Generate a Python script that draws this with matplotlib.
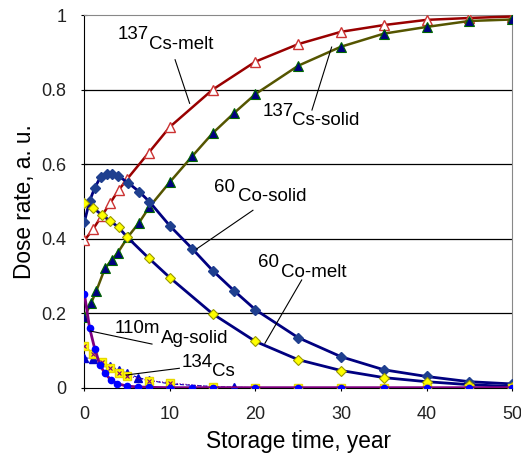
import numpy as np
import matplotlib.pyplot as plt

plt.rcParams['font.family'] = ['Liberation Sans', 'DejaVu Sans']

# 137Cs in melt
cs_melt_t = [0, 1, 2, 3, 4, 5, 7.5, 10, 15, 20, 25, 30, 35, 40, 45, 50]
cs_melt = [0.395, 0.425, 0.46, 0.495, 0.53, 0.56, 0.63, 0.70, 0.80, 0.875,
           0.922, 0.955, 0.973, 0.987, 0.992, 0.996]

# 137Cs in solid
cs_solid_t = [0, 0.8, 1.4, 2.4, 3.2, 3.9, 5.1, 6.4, 7.6, 10, 12.6, 15, 17.5, 20,
              25, 30, 35, 40, 45, 50]
cs_solid = [0.19, 0.228, 0.26, 0.32, 0.343, 0.362, 0.405, 0.443, 0.485, 0.552,
            0.621, 0.683, 0.737, 0.788, 0.864, 0.915, 0.95, 0.968, 0.984, 0.988]

# 60Co in solid
co_solid_t = [0, 0.6, 1.2, 1.9, 2.6, 3.2, 3.9, 5.1, 6.4, 7.6, 10, 12.6, 15, 17.5,
              20, 25, 30, 35, 40, 45, 50]
co_solid = [0.445, 0.50, 0.536, 0.566, 0.573, 0.574, 0.569, 0.55, 0.526, 0.499,
            0.434, 0.373, 0.314, 0.26, 0.209, 0.134, 0.083, 0.048, 0.03, 0.016, 0.01]

# 60Co in melt
co_melt_t = [0, 1, 2, 3, 4, 5, 7.5, 10, 15, 20, 25, 30, 35, 40, 45, 50]
co_melt = [0.495, 0.483, 0.464, 0.448, 0.43, 0.404, 0.348, 0.295, 0.198, 0.124,
           0.075, 0.046, 0.027, 0.016, 0.008, 0.003]

# 110mAg in solid
ag_t = [0, 0.6, 1.2, 1.8, 2.4, 3.1, 3.8, 5, 6.3, 7.5, 10, 12.6, 15, 20, 25, 30,
        35, 40, 45, 50]
ag = [0.252, 0.161, 0.105, 0.062, 0.038, 0.021, 0.011, 0.004, 0.002, 0.001,
      0.0, 0.0, 0.0, 0.0, 0.0, 0.0, 0.0, 0.0, 0.0, 0.0]

# 134Cs
cs134_t = [0, 1, 2, 3, 4, 5, 7.5, 10, 15, 20, 25, 30, 35, 40, 45, 50]
cs134 = [0.113, 0.091, 0.07, 0.054, 0.04, 0.032, 0.019, 0.013, 0.002, 0.0,
         0.0, 0.0, 0.0, 0.0, 0.0, 0.0]

# 134Cs (second set, triangles)
cs134b_t = [0, 1, 2, 3, 4, 5, 6.3, 7.5, 10, 15, 17.5, 20, 25, 30, 35, 40, 45, 50]
cs134b = [0.08, 0.078, 0.068, 0.058, 0.048, 0.038, 0.027, 0.02, 0.01, 0.003,
          0.001, 0.0, 0.0, 0.0, 0.0, 0.0, 0.0, 0.0]

fig = plt.figure(figsize=(5.21, 4.55), dpi=100)
ax = fig.add_axes([0.162, 0.148, 0.821, 0.819])

for y in [0.2, 0.4, 0.6, 0.8]:
    ax.axhline(y, color='black', lw=0.9, zorder=0)

ax.plot(cs134b_t, cs134b, color='#0000cc', lw=0.8, ls='--', marker='^',
        ms=6, mfc='#0000cc', mec='#0000cc', zorder=3)
ax.plot(cs134_t, cs134, color='#800080', lw=0.8, ls=':', marker='s',
        ms=6, mfc='#ffff00', mec='#e8d800', zorder=4)
ax.plot(cs134_t, cs134, ls='none', marker='x', ms=2.5, mec='#800080', mew=0.8, zorder=5)
ax.plot(ag_t, ag, color='#800080', lw=2, marker='o', ms=4.5,
        mfc='#0000ff', mec='#0000ff', zorder=6)

ax.plot(cs_melt_t, cs_melt, color='#990000', lw=1.8, marker='^', ms=7,
        mfc='white', mec='#cc3333', mew=1, zorder=3)
ax.plot(cs_solid_t, cs_solid, color='#555500', lw=1.8, marker='^', ms=7,
        mfc='#000080', mec='#006600', mew=0.8, zorder=3)
ax.plot(co_solid_t, co_solid, color='#000080', lw=2, marker='D', ms=5,
        mfc='#1f3f8f', mec='#1f3f8f', zorder=3)
ax.plot(co_melt_t, co_melt, color='#000080', lw=2, marker='D', ms=5,
        mfc='#ffff00', mec='#999900', mew=0.8, zorder=3)

ax.set_xlim(0, 50)
ax.set_ylim(0, 1)
ax.set_xticks([0, 10, 20, 30, 40, 50])
ax.set_yticks([0, 0.2, 0.4, 0.6, 0.8, 1])
ax.set_yticklabels(['0', '0.2', '0.4', '0.6', '0.8', '1'])
ax.tick_params(axis='both', labelsize=13, colors='black', length=4,
               direction='inout', labelcolor='#222222')
ax.tick_params(axis='x', pad=11)
ax.tick_params(axis='y', pad=11)
ax.spines['top'].set_color('#888888')
ax.spines['right'].set_color('#888888')
ax.spines['left'].set_color('black')
ax.spines['bottom'].set_color('black')
ax.set_xlabel('Storage time, year', fontsize=16.3, labelpad=5)
ax.set_ylabel('Dose rate, a. u.', fontsize=16.3, labelpad=4)


def label(x, y, num, name, x0, y0, x1, y1, dx=3.7):
    ax.plot([x0, x1], [y0, y1], color='black', lw=0.8, zorder=7)
    ax.text(x, y, num, fontsize=13.5, ha='left', va='center', zorder=8)
    ax.text(x + dx, y - 0.025, name, fontsize=13.5, ha='left', va='center', zorder=8)


label(3.9, 0.947, '137', 'Cs-melt', 10.6, 0.880, 12.3, 0.763)
label(20.8, 0.741, '137', 'Cs-solid', 26.6, 0.745, 28.9, 0.914, dx=3.5)
label(15.2, 0.537, '60', 'Co-solid', 19.7, 0.476, 13.1, 0.372, dx=2.7)
label(20.3, 0.335, '60', 'Co-melt', 25.4, 0.289, 21.1, 0.119, dx=2.7)
label(3.5, 0.158, '110m', 'Ag-solid', 7.9, 0.117, 0.7, 0.152, dx=5.4)
label(11.4, 0.068, '134', 'Cs', 11.1, 0.052, 4.9, 0.034, dx=3.5)

fig.savefig('out.png', dpi=100)
